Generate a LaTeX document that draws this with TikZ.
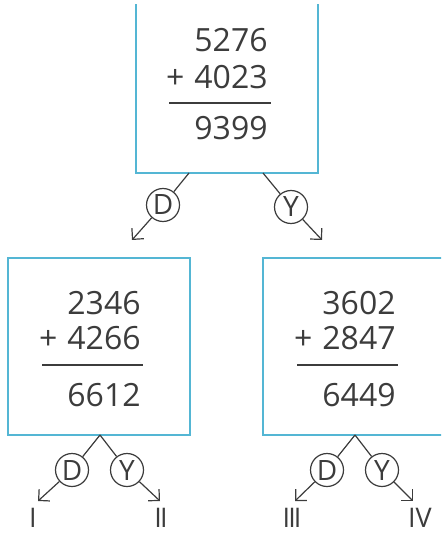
\documentclass[tikz,border=0pt]{standalone}
\usepackage{fontspec}
\setmainfont{Open Sans}
\usetikzlibrary{arrows.meta}
\definecolor{boxblue}{RGB}{84,182,212}
\definecolor{inkgray}{RGB}{60,60,60}

\begin{document}
\begin{tikzpicture}[x=0.5pt, y=-0.5pt,
		sumbox/.style={draw=boxblue, line width=1pt, inner sep=0pt},
		row/.style={anchor=east, text=inkgray, font=\fontsize{16}{18}\selectfont, inner sep=0pt},
		rule/.style={draw=inkgray, line width=0.8pt},
		choice/.style={draw=inkgray, circle, line width=0.6pt, minimum size=16.5pt, inner sep=0pt, fill=white, text=inkgray, font=\fontsize{14}{16}\selectfont},
		branch/.style={draw=inkgray, line width=0.6pt},
		leaf/.style={text=inkgray, font=\fontsize{13.5}{16}\selectfont, inner sep=0pt},
		>={Straight Barb[length=4pt, width=8pt, line width=0.6pt]}]
		\useasboundingbox (0,0) rectangle (441,533);
		\begin{scope}
		\clip (0,5) rectangle (441,533);
		\node[sumbox, minimum width=91pt, minimum height=96.5pt] (top) at (227,76.5) {};
		\node[sumbox, minimum width=91pt, minimum height=88.5pt] (left) at (99,346.5) {};
		\node[sumbox, minimum width=100pt, minimum height=88.5pt] (right) at (363,346.5) {};
		\end{scope}
		% top sum
		\node[row] (topa) at (268,40) {5276};
		\node[row] (topb) at (268,77) {+\kern5pt4023};
		\draw[rule] (169,103) -- (271,103);
		\node[row] (topc) at (268,128) {9399};
		% left sum
		\node[row] (lefta) at (141,303) {2346};
		\node[row] (leftb) at (141,338) {+\kern5pt4266};
		\draw[rule] (42,365) -- (143,365);
		\node[row] (leftc) at (141,395) {6612};
		% right sum
		\node[row] (righta) at (396,303) {3602};
		\node[row] (rightb) at (396,338) {+\kern5pt2847};
		\draw[rule] (297,365) -- (398,365);
		\node[row] (rightc) at (396,395) {6449};
		% top branches
		\coordinate (topD) at (189,173);
		\coordinate (topY) at (263,173);
		\node[choice] (d0) at (163,205) {D};
		\node[choice] (y0) at (291,207) {Y};
		\coordinate (d0end) at (132,240);
		\coordinate (y0end) at (322,240);
		\draw[branch] (topD) -- (d0);
		\draw[branch] (topY) -- (y0);
		\draw[branch, ->] (d0) -- (d0end);
		\draw[branch, ->] (y0) -- (y0end);
		% left branches
		\coordinate (leftfork) at (100,435);
		\node[choice] (d1) at (72,470) {D};
		\node[choice] (y1) at (127,470) {Y};
		\coordinate (d1end) at (38,501);
		\coordinate (y1end) at (160,501);
		\draw[branch] (leftfork) -- (d1);
		\draw[branch] (leftfork) -- (y1);
		\draw[branch, ->] (d1) -- (d1end);
		\draw[branch, ->] (y1) -- (y1end);
		\node[leaf] (one) at (33,518) {I};
		\node[leaf] (two) at (161,518) {I\kern-1pt I};
		% right branches
		\coordinate (rightfork) at (355,435);
		\node[choice] (d2) at (327,470) {D};
		\node[choice] (y2) at (382,470) {Y};
		\coordinate (d2end) at (295,501);
		\coordinate (y2end) at (413,501);
		\draw[branch] (rightfork) -- (d2);
		\draw[branch] (rightfork) -- (y2);
		\draw[branch, ->] (d2) -- (d2end);
		\draw[branch, ->] (y2) -- (y2end);
		\node[leaf] (three) at (292,518) {I\kern-1pt I\kern-1pt I};
		\node[leaf] (four) at (420,518) {IV};
\end{tikzpicture}
\end{document}
